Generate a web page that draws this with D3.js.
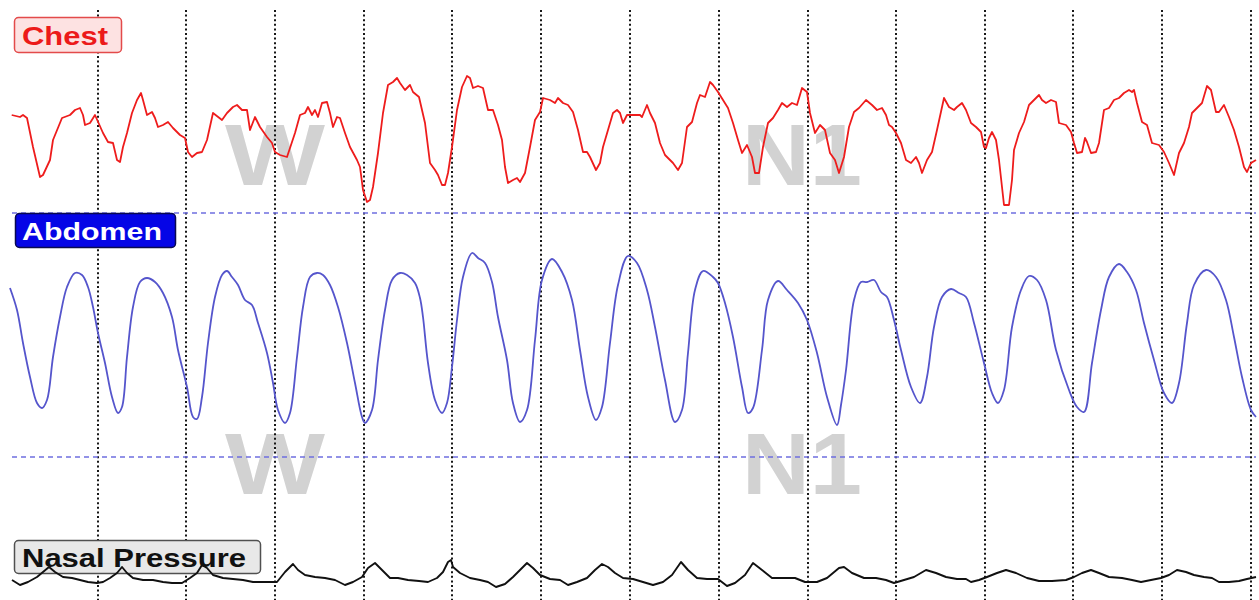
<!DOCTYPE html>
<html>
<head>
<meta charset="utf-8">
<script src="https://cdn.jsdelivr.net/npm/d3@7"></script>
<style>
  html, body { margin: 0; padding: 0; background: #ffffff; }
  svg { display: block; }
  text { font-family: "Liberation Sans", Arial, sans-serif; font-weight: bold; }
</style>
</head>
<body>
<svg id="chart" width="1259" height="600"></svg>
<script>
// Respiratory effort recording: chest belt, abdomen belt, nasal pressure.
// Samples are [time (s), amplitude (arbitrary units)].

const chest = [
  [0.17,-3],[1.0,-5],[1.3,-3],[1.7,-6],[2.3,-35],[3.0,-65],[3.3,-63],[4.0,-48],[4.3,-28],[5.2,-6],
  [6.0,-3],[6.5,2],[7.0,4],[7.3,-3],[7.5,-13],[8.0,-11],[8.5,-3],[9.3,-21],[9.8,-30],[10.3,-31],
  [10.7,-48],[11.0,-50],[11.3,-35],[11.7,-21],[12.2,-1],[12.7,12],[13.1,19],[13.3,12],[13.7,-3],[14.2,0],
  [14.5,-6],[14.8,-15],[15.3,-13],[15.8,-10],[16.3,-16],[17.0,-23],[17.5,-26],[17.8,-40],[18.2,-45],[18.7,-41],
  [19.2,-40],[19.7,-28],[20.3,-1],[21.2,-8],[21.7,-1],[22.3,5],[22.7,7],[23.2,2],[23.7,2],[24.0,-18],
  [24.5,-5],[25.0,-15],[25.7,-25],[26.2,-31],[26.5,-40],[27.0,-43],[27.7,-45],[28.0,-36],[28.5,-21],[29.0,-3],
  [29.5,-1],[29.8,5],[30.2,-3],[30.5,2],[30.8,-5],[31.2,9],[31.7,10],[32.0,-1],[32.3,-15],[32.7,-5],
  [33.0,-6],[33.5,-21],[34.0,-35],[34.7,-48],[35.0,-55],[35.3,-78],[35.7,-90],[36.0,-88],[36.3,-75],[36.8,-41],
  [37.3,-1],[37.8,27],[38.3,30],[38.7,34],[39.0,29],[39.5,22],[40.0,27],[40.3,20],[40.9,15],[41.5,-11],
  [42.0,-51],[42.5,-58],[42.8,-63],[43.2,-73],[43.5,-73],[43.8,-61],[44.2,-35],[44.7,2],[45.2,25],[45.7,36],
  [46.0,34],[46.3,24],[46.8,26],[47.3,24],[47.8,2],[48.3,2],[48.8,-13],[49.2,-28],[49.5,-55],[49.8,-71],
  [50.3,-68],[50.7,-66],[51.0,-70],[51.5,-61],[52.0,-35],[52.5,-8],[53.0,0],[53.3,14],[54.0,12],[54.5,9],
  [54.8,14],[55.3,9],[55.8,7],[56.3,0],[56.8,-18],[57.3,-40],[57.7,-40],[58.0,-45],[58.6,-58],[59.0,-51],
  [59.3,-35],[59.8,-18],[60.3,-1],[60.7,2],[61.0,-1],[61.3,-11],[61.7,-3],[62.3,-3],[63.0,-3],[63.2,-5],
  [63.7,7],[64.0,-1],[64.5,-11],[65.0,-31],[65.5,-43],[66.3,-51],[66.8,-58],[67.2,-51],[67.7,-15],[68.2,-10],
  [68.7,9],[69.0,17],[69.5,15],[70.0,30],[70.3,27],[70.8,20],[71.3,12],[71.8,4],[72.3,-11],[72.8,-28],
  [73.2,-41],[73.7,-33],[74.2,-45],[74.5,-61],[74.9,-61],[75.3,-35],[75.8,-11],[76.3,-6],[76.8,2],[77.2,9],
  [77.7,5],[78.2,9],[78.7,7],[79.2,24],[79.7,20],[80.0,-1],[80.5,-21],[81.0,-13],[81.5,-18],[82.0,-41],
  [82.5,-48],[82.9,-61],[83.4,-45],[83.9,-15],[84.4,0],[84.9,4],[85.6,12],[86.2,7],[86.7,2],[87.2,4],
  [87.6,-3],[87.9,-13],[88.2,-15],[88.6,-21],[89.1,-31],[89.6,-48],[90.1,-51],[90.6,-45],[90.9,-51],[91.2,-61],
  [91.7,-48],[92.2,-40],[92.7,-18],[93.4,14],[93.9,5],[94.4,2],[94.7,5],[95.2,9],[95.6,2],[96.1,-11],
  [96.6,-15],[97.1,-20],[97.4,-35],[97.6,-36],[97.9,-26],[98.2,-20],[98.6,-28],[98.9,-48],[99.2,-75],[99.4,-93],
  [99.9,-93],[100.2,-68],[100.4,-38],[100.9,-21],[101.4,-10],[101.9,7],[102.4,12],[102.9,17],[103.2,12],[103.6,9],
  [104.1,12],[104.6,10],[104.9,-11],[105.6,-13],[106.1,-20],[106.4,-31],[106.7,-41],[107.2,-40],[107.5,-26],[107.7,-30],
  [108.1,-41],[108.6,-40],[108.9,-31],[109.4,2],[109.9,4],[110.4,12],[110.9,14],[111.4,19],[111.9,22],[112.2,20],
  [112.4,22],[112.7,9],[113.2,-10],[113.7,-13],[114.2,-31],[114.9,-33],[115.4,-40],[115.9,-51],[116.4,-63],[116.9,-41],
  [117.4,-31],[117.9,-15],[118.2,-1],[118.7,4],[119.2,9],[119.7,26],[120.1,22],[120.6,0],[120.9,0],[121.4,7],
  [121.9,-5],[122.4,-18],[122.9,-35],[123.4,-55],[123.7,-60],[124.1,-51],[124.6,-48]
];

const abdomen = [
  [0.0,52],[0.7,30],[1.3,-3],[2.0,-37],[2.7,-63],[3.2,-68],[3.7,-60],[4.3,-17],[5.0,23],[5.7,53],
  [6.5,67],[7.2,65],[7.8,53],[8.3,33],[8.8,7],[9.5,-23],[10.2,-57],[10.8,-73],[11.2,-67],[11.7,-17],
  [12.3,33],[13.0,58],[13.7,62],[14.5,58],[15.3,47],[16.2,23],[16.8,-10],[17.7,-47],[18.3,-77],[18.7,-79],
  [19.2,-57],[19.8,-3],[20.5,43],[21.2,65],[21.7,69],[22.2,63],[22.8,55],[23.5,40],[24.2,35],[24.8,17],
  [25.7,-13],[26.3,-43],[26.8,-70],[27.5,-83],[28.0,-73],[28.7,-17],[29.3,33],[30.0,63],[30.7,67],[31.3,65],
  [32.0,55],[32.8,33],[33.7,-3],[34.5,-43],[35.2,-77],[35.5,-83],[36.2,-70],[36.8,-20],[37.5,30],[38.2,60],
  [39.0,67],[39.7,65],[40.5,57],[41.0,42],[41.3,23],[41.8,-23],[42.5,-60],[43.2,-73],[43.7,-63],[44.2,-27],
  [44.7,20],[45.3,63],[46.2,87],[46.8,82],[47.5,77],[48.2,58],[48.8,23],[49.7,-20],[50.3,-63],[51.0,-82],
  [51.7,-70],[52.5,0],[53.2,60],[54.2,81],[55.2,68],[56.2,40],[57.0,-10],[57.8,-57],[58.6,-80],[59.2,-67],
  [60.0,-3],[60.8,55],[61.8,84],[62.7,77],[63.7,50],[64.5,13],[65.5,-40],[66.5,-82],[67.2,-70],[67.8,-13],
  [68.5,50],[69.3,69],[70.3,63],[70.8,57],[71.5,37],[72.3,3],[73.2,-47],[73.8,-73],[74.3,-68],[75.2,-10],
  [75.8,40],[76.8,59],[77.7,50],[78.8,37],[79.7,20],[80.7,-13],[81.7,-57],[82.7,-85],[83.1,-65],[83.6,-30],
  [84.4,40],[85.1,58],[85.7,58],[86.4,60],[87.1,48],[87.7,43],[88.4,20],[89.1,-10],[90.1,-47],[91.0,-63],
  [91.7,-37],[92.4,13],[93.2,43],[94.1,51],[94.9,47],[95.6,43],[96.4,17],[97.4,-23],[98.2,-53],[98.8,-63],
  [99.4,-50],[100.2,13],[101.1,50],[101.9,64],[102.7,60],[103.6,40],[104.6,-10],[105.9,-50],[106.7,-67],[107.4,-72],
  [108.2,-23],[109.1,30],[109.9,63],[110.9,76],[111.7,68],[112.6,50],[113.4,17],[114.4,-20],[115.4,-53],[116.2,-63],
  [116.9,-43],[117.7,17],[118.4,55],[119.6,70],[120.6,63],[121.6,40],[122.4,3],[123.2,-37],[124.1,-70],[124.6,-77]
];

const nasal = [
  [0.2,-2],[1.0,-7],[1.8,-4],[2.7,1],[3.3,6],[3.9,11],[4.5,6],[5.3,1],[6.2,0],[7.0,-2],
  [7.8,-4],[8.7,-5],[9.3,-4],[10.0,0],[10.7,5],[11.2,11],[11.7,5],[12.3,0],[13.3,-2],[14.3,-2],
  [15.3,-4],[16.2,-5],[17.2,-5],[18.0,0],[18.7,5],[19.2,13],[19.7,10],[20.3,3],[21.3,0],[22.3,-1],
  [23.3,-2],[24.3,-4],[25.3,-4],[26.2,-4],[26.7,-4],[27.5,6],[28.3,14],[28.8,8],[29.5,3],[30.5,1],
  [31.5,0],[32.5,-2],[33.5,-7],[34.3,-4],[35.2,1],[35.8,10],[36.5,15],[37.2,8],[38.0,0],[38.8,0],
  [39.8,-2],[40.9,-3],[41.8,-4],[42.7,0],[43.3,6],[43.8,16],[44.1,18],[44.3,11],[45.0,5],[46.0,0],
  [47.0,-2],[47.8,-4],[48.6,-9],[49.5,-6],[50.3,1],[51.2,10],[51.7,15],[52.3,10],[53.0,3],[54.0,-1],
  [55.0,-2],[55.8,-7],[56.7,-4],[57.7,0],[58.5,8],[59.2,14],[59.8,11],[60.5,5],[61.3,0],[62.3,-1],
  [63.3,-4],[64.3,-7],[65.3,-4],[66.2,3],[67.1,16],[67.8,8],[68.7,0],[69.7,-1],[70.8,-1],[71.7,-8],
  [72.5,-5],[73.5,3],[74.3,15],[75.2,8],[76.2,0],[77.3,0],[78.5,0],[79.5,-4],[80.7,-4],[81.7,0],
  [82.3,5],[82.9,10],[83.4,11],[84.2,5],[85.4,0],[86.6,0],[87.6,-2],[88.4,-5],[89.4,-2],[90.4,1],
  [91.6,8],[92.6,5],[93.6,1],[94.7,-1],[95.6,-1],[96.1,-4],[96.9,-2],[97.7,1],[98.7,5],[99.6,8],
  [100.6,5],[101.7,0],[102.9,-3],[104.2,-3],[105.6,-2],[106.4,1],[107.2,5],[108.1,8],[108.9,5],[109.9,1],
  [111.2,0],[112.2,-2],[113.1,-4],[114.1,-2],[115.1,0],[115.9,3],[116.7,8],[117.6,6],[118.4,3],[119.4,1],
  [120.2,0],[120.9,-4],[121.9,-4],[122.9,-3],[123.7,-1],[124.6,1]
];

// Epoch gridline times (s)
const gridTimes = [8.8, 17.6, 26.5, 35.4, 44.2, 53.1, 62.0, 70.9, 79.8, 88.6, 97.5, 106.3, 115.2, 124.1];

// Sleep stage annotations: [label, centre time (s)]
const stages = [["W", 26.5], ["N1", 79.2]];

// Channel names
const channelNames = ["Chest", "Abdomen", "Nasal Pressure"];

const svg = d3.select("#chart");

const x = d3.scaleLinear().domain([0, 124.6]).range([10, 1256]);
const yChest = d3.scaleLinear().domain([-100, 100]).range([212, 12]);
const yAbd = d3.scaleLinear().domain([-120, 120]).range([460, 220]);
const yNasal = d3.scaleLinear().domain([-20, 20]).range([598, 558]);

// Stage watermarks, one per effort channel
const stageLayer = svg.append("g");
const stageBaselines = [yChest(-73), yAbd(-154)];
const stageWidths = { "W": 100, "N1": 120 };
stageBaselines.forEach(b => {
  stageLayer.selectAll(null)
    .data(stages)
    .enter().append("text")
    .attr("x", d => x(d[1]))
    .attr("y", b)
    .attr("text-anchor", "middle")
    .attr("textLength", d => stageWidths[d[0]])
    .attr("lengthAdjust", "spacingAndGlyphs")
    .style("font-size", "88px")
    .style("fill", "#d2d2d2")
    .text(d => d[0]);
});

// Vertical epoch gridlines
svg.append("g").selectAll("line")
  .data(gridTimes)
  .enter().append("line")
  .attr("x1", d => x(d)).attr("x2", d => x(d))
  .attr("y1", 10).attr("y2", 600)
  .attr("stroke", "#161616")
  .attr("stroke-width", 2)
  .attr("stroke-dasharray", "2,2.6");

// Channel separators
const seps = [yChest(-101), yAbd(-117)];
svg.append("g").selectAll("line")
  .data(seps)
  .enter().append("line")
  .attr("x1", 12).attr("x2", 1256)
  .attr("y1", d => d).attr("y2", d => d)
  .attr("stroke", "#6f6fe0")
  .attr("stroke-width", 1.4)
  .attr("stroke-dasharray", "5,4");

// Traces
const line = (ys, curve) => d3.line()
  .x(d => x(d[0]))
  .y(d => ys(d[1]))
  .curve(curve);

svg.append("path")
  .datum(chest)
  .attr("d", line(yChest, d3.curveLinear))
  .attr("fill", "none")
  .attr("stroke", "#ee1c1c")
  .attr("stroke-width", 1.8)
  .attr("stroke-linejoin", "round");

svg.append("path")
  .datum(abdomen)
  .attr("d", line(yAbd, d3.curveCatmullRom.alpha(0.5)))
  .attr("fill", "none")
  .attr("stroke", "#5555cc")
  .attr("stroke-width", 1.8);

// Channel labels
function label(g, name, bx, by, bw, bh, fill, stroke, color, size, tx, ty, tl) {
  g.append("rect")
    .attr("x", bx).attr("y", by).attr("width", bw).attr("height", bh)
    .attr("rx", 4).attr("ry", 4)
    .attr("fill", fill).attr("stroke", stroke).attr("stroke-width", 1.5);
  g.append("text")
    .attr("x", tx).attr("y", ty)
    .attr("textLength", tl)
    .attr("lengthAdjust", "spacingAndGlyphs")
    .style("font-size", size + "px")
    .style("fill", color)
    .text(name);
}
const labels = svg.append("g");
label(labels, channelNames[0], 14.5, 17.5, 107, 35, "#fde2e2", "#e34a4a", "#ec1a1a", 25, 22, 45, 86);
label(labels, channelNames[1], 15.5, 213.5, 160, 34, "#0505e6", "#0a0a50", "#ffffff", 24, 22, 240, 140);
label(labels, channelNames[2], 14.5, 540.5, 246, 33, "#e8e8e8", "#505050", "#111111", 26, 22, 567, 224);

svg.append("path")
  .datum(nasal)
  .attr("d", line(yNasal, d3.curveLinear))
  .attr("fill", "none")
  .attr("stroke", "#111111")
  .attr("stroke-width", 1.9)
  .attr("stroke-linejoin", "round");
</script>
</body>
</html>
